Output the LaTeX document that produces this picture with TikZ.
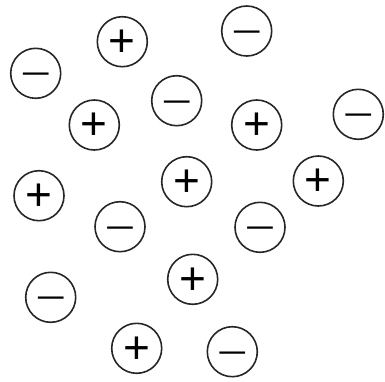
\documentclass[tikz,border=0pt]{standalone}
\usepackage{fontspec}
\setmainfont{Liberation Sans}
\newcommand{\plussign}{\raisebox{-0.32em}{+}}
\newcommand{\minussign}{\raisebox{-0.25em}{\scalebox{1.15}[0.68]{−}}}
\begin{document}
\begin{tikzpicture}[x=1pt,y=-1pt,
  chg/.style={draw=black!85, circle, line width=1.6pt, minimum size=50pt, inner sep=0pt,
              text height=0pt, text depth=0pt, font=\fontsize{46}{46}\selectfont},
  poschg/.style={chg},
  negchg/.style={chg}]
\useasboundingbox (0,0) rectangle (385,381);
\node[poschg] (p1) at (122.3,41.7) {\plussign};
\node[negchg] (n1) at (246.7,31) {\minussign};
\node[negchg] (n2) at (35.7,73.3) {\minussign};
\node[poschg] (p2) at (94.3,125) {\plussign};
\node[negchg] (n3) at (176.7,100.7) {\minussign};
\node[poschg] (p3) at (256.7,125) {\plussign};
\node[negchg] (n4) at (358.3,114.3) {\minussign};
\node[poschg] (p4) at (39,195.7) {\plussign};
\node[poschg] (p5) at (186.7,181.7) {\plussign};
\node[poschg] (p6) at (318.3,181) {\plussign};
\node[negchg] (n5) at (120,226.7) {\minussign};
\node[negchg] (n6) at (260,227.3) {\minussign};
\node[poschg] (p7) at (192.7,279.3) {\plussign};
\node[negchg] (n7) at (50.7,297.3) {\minussign};
\node[poschg] (p8) at (136.7,348.3) {\plussign};
\node[negchg] (n8) at (232.3,351.7) {\minussign};
\end{tikzpicture}
\end{document}
